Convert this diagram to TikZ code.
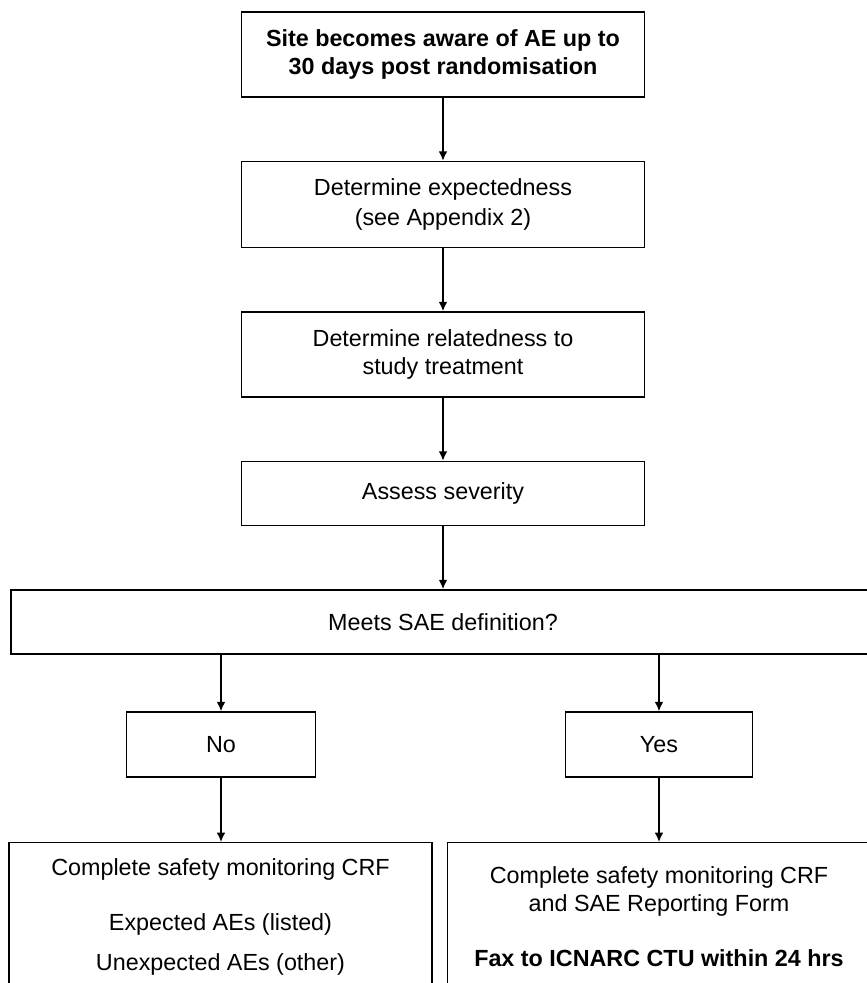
\documentclass[tikz,border=0pt]{standalone}
\usepackage{fontspec}
\setmainfont{Liberation Sans}
\usetikzlibrary{positioning,arrows.meta}

\begin{document}
\begin{tikzpicture}[x=0.75pt, y=0.75pt, node distance=47.25pt]
    \tikzstyle{marr}=[line width=1.1pt,-{Latex[length=7pt,width=6.5pt]}]
    \tikzstyle{sbox}=[draw, line width=1.1pt, align=center, inner sep=4pt, minimum width=302pt]
    \tikzstyle{cbox}=[sbox, minimum width=142pt, minimum height=48.75pt]
    \tikzstyle{fbox}=[draw, line width=1.1pt, align=center, anchor=north, minimum width=317pt, inner xsep=4pt]
    \def\vgap{20pt}

    \fontsize{17.5}{21}\selectfont

    \useasboundingbox (0,0) rectangle (867,983);
    \clip (0,0) rectangle (867,983);

    % main chain
    \node[sbox, minimum height=63.75pt] (site) at (443,928.5)
        {\bfseries Site becomes aware of AE up to\\\bfseries 30 days post randomisation};
    \node[sbox, minimum height=64.5pt, below=of site] (expect)
        {Determine expectedness\\[2pt](see Appendix 2)};
    \node[sbox, minimum height=63.75pt, below=of expect] (relate)
        {Determine relatedness to\\study treatment};
    \node[sbox, minimum height=48pt, below=of relate] (sever) {Assess severity};
    \node[sbox, minimum height=48pt, minimum width=648pt, below=of sever] (meets)
        {Meets SAE definition?};

    % answers
    \node[cbox] (no) at (221,238.5) {No};
    \node[cbox, minimum width=140pt] (yes) at (659,238.5) {Yes};

    % outcomes
    \node[fbox, inner ysep=12pt] (nosae) at (220.5,141)
        {Complete safety monitoring CRF\\[\vgap]Expected AEs (listed)\\[9pt]Unexpected AEs (other)\rule[-14pt]{0pt}{0pt}};
    \node[fbox, inner ysep=18pt] (sae) at (659,141)
        {Complete safety monitoring CRF\\and SAE Reporting Form\\[\vgap]\textbf{Fax to ICNARC CTU within 24 hrs}\rule[-14pt]{0pt}{0pt}};

    \draw[marr] (site) -- (expect);
    \draw[marr] (expect) -- (relate);
    \draw[marr] (relate) -- (sever);
    \draw[marr] (sever) -- (meets);
    \draw[marr] (no |- meets.south) -- (no);
    \draw[marr] (yes |- meets.south) -- (yes);
    \draw[marr] (no) -- (no |- nosae.north);
    \draw[marr] (yes) -- (yes |- sae.north);
\end{tikzpicture}
\end{document}
